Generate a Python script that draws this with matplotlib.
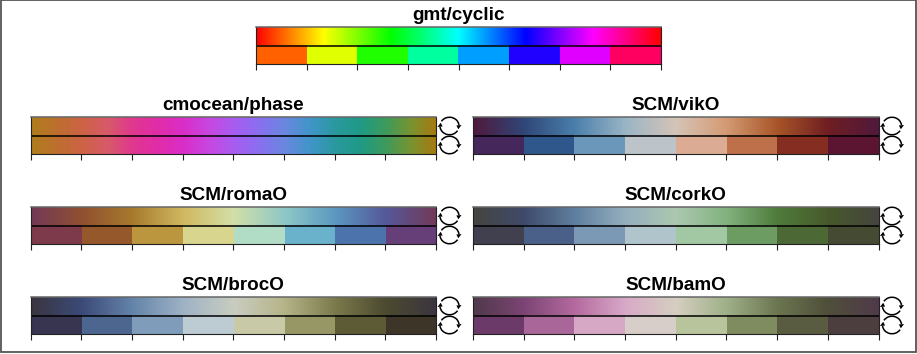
import numpy as np
import matplotlib
matplotlib.use("Agg")
import matplotlib.pyplot as plt
from matplotlib.colors import LinearSegmentedColormap, ListedColormap
from matplotlib.patches import Arc, Polygon, Rectangle

plt.rcParams["font.family"] = ["Liberation Sans", "DejaVu Sans"]

W, H = 917, 354

titles = ["gmt/cyclic", "cmocean/phase", "SCM/vikO", "SCM/romaO", "SCM/corkO", "SCM/brocO", "SCM/bamO"]

# colours along the smooth bar, evenly spaced from left to right
gmt_nodes = ["#ff0000", "#ffff00", "#00ff00", "#00ffff", "#0000ff", "#ff00ff", "#ff0000"]
phase_nodes = ["#b07d1c", "#bd6f2e", "#cc6345", "#d85a68", "#e0388f", "#e22ca8", "#d92ec8", "#c847e0", "#a85cf0",
               "#8a6ff0", "#6a87e0", "#4095c8", "#2a999f", "#1f9a85", "#3d9a5c", "#7a9330", "#a8780f"]
vik_nodes = ["#50193c", "#2f4678", "#4a7fab", "#9ab5c5", "#d5c4b8", "#d49a73", "#a85528", "#6f1e22", "#50193c"]
roma_nodes = ["#733957", "#8f5030", "#a87a2e", "#d0b860", "#d2dfa7", "#8ec8c6", "#5b98c0", "#56589a", "#733957"]
cork_nodes = ["#45443f", "#3f4a6a", "#5f7fa0", "#95aebf", "#acc8b0", "#82b27f", "#4f7c3c", "#47592b", "#45443f"]
broc_nodes = ["#3a353f", "#3c4a78", "#6484aa", "#9fb2c5", "#c9cdc0", "#b5b488", "#7a7a4c", "#4c4a30", "#3a353f"]
bam_nodes = ["#4f3a4a", "#7c4474", "#b46a9f", "#d8a9c8", "#d5cfc0", "#9fb088", "#6c7650", "#4f4f3a", "#4f3a4a"]

# the eight classes of the lower bar
gmt_steps = ["#ff6000", "#e0ff00", "#20ff00", "#00ff9f", "#009fff", "#2000ff", "#df00ff", "#ff0060"]
vik_steps = ["#46275c", "#30578c", "#6a97ba", "#bdc4c9", "#dcab93", "#bd7049", "#842d20", "#5c1530"]
roma_steps = ["#7d3a4a", "#95582b", "#bc963f", "#d8d58e", "#b1dcc6", "#6ab1cc", "#4d73ad", "#673f78"]
cork_steps = ["#40404f", "#4a6088", "#7b98b5", "#b0c4cc", "#a1c8a3", "#6c9c62", "#4b6835", "#454a33"]
broc_steps = ["#373550", "#4c668f", "#809cbb", "#bdcbd3", "#c8c9a6", "#979765", "#5d5b35", "#3e3529"]
bam_steps = ["#6b3a68", "#a96699", "#d7a7c6", "#d7cec9", "#b8c59c", "#7f8c5f", "#5a5c42", "#4c3d3f"]

tick_pos = [0, 0.125, 0.25, 0.375, 0.5, 0.625, 0.75, 0.875, 1]

def panel(x0, x1, y0, y1, title, nodes, steps):
    ax = fig.add_axes([x0 / W, 1 - y1 / H, (x1 - x0) / W, (y1 - y0) / H])
    cm = LinearSegmentedColormap.from_list("c", nodes, N=512)
    grad = np.linspace(0, 1, 512).reshape(1, -1)
    ax.imshow(grad, cmap=cm, aspect="auto", extent=[0, 1, 1, 2], interpolation="bilinear")
    if steps is None:
        # phase has no classes, it runs smooth in both bars
        ax.imshow(grad, cmap=cm, aspect="auto", extent=[0, 1, 0, 1], interpolation="bilinear")
    else:
        ax.imshow(np.arange(8).reshape(1, -1), cmap=ListedColormap(steps), aspect="auto",
                  extent=[0, 1, 0, 1], interpolation="nearest")
    ax.set_xlim(0, 1)
    ax.set_ylim(0, 2)
    ax.axhline(1, color="black", lw=1.1)
    ax.set_yticks([])
    ax.set_xticks(tick_pos)
    ax.set_xticklabels([])
    ax.tick_params(axis="x", length=4.3, width=0.8, color="#222222")
    for s in ax.spines.values():
        s.set_linewidth(0.8)
        s.set_color("#222222")
    ax.spines["top"].set_color("#666666")
    ax.spines["top"].set_linewidth(1.1)
    ax.set_title(title, fontsize=13.6, fontweight="bold", pad=5)
    return ax

def cycle_glyph(cx, cy):
    cy = H - cy
    for t0, t1, tip in [(5, 150, -22), (185, 330, 158)]:
        over.add_patch(Arc((cx, cy), 19, 17.5, theta1=t0, theta2=t1, lw=1.1, color="black"))
        a = np.deg2rad(t0)
        b = np.deg2rad(tip)
        px, py = cx + 9.5 * np.cos(a), cy + 8.75 * np.sin(a)
        qx, qy = cx + 9.5 * np.cos(b), cy + 8.75 * np.sin(b)
        nx, ny = np.cos(a), np.sin(a)
        over.add_patch(Polygon([[px + 2.6 * nx, py + 2.6 * ny], [px - 2.6 * nx, py - 2.6 * ny], [qx, qy]],
                               closed=True, color="black", lw=0))

fig = plt.figure(figsize=(W / 100, H / 100), dpi=100)

over = fig.add_axes([0, 0, 1, 1], zorder=5)
over.set_xlim(0, W)
over.set_ylim(0, H)
over.axis("off")
over.patch.set_alpha(0)
over.add_patch(Rectangle((0.7, 1.8), W - 1.4, H - 2.2, fill=False, ec="#555555", lw=1.3))

panel(256, 661, 27, 64, titles[0], gmt_nodes, gmt_steps)

lefts = [30.5, 473]
tops = [117, 207, 297]
rows = [
    (titles[1], phase_nodes, None),
    (titles[2], vik_nodes, vik_steps),
    (titles[3], roma_nodes, roma_steps),
    (titles[4], cork_nodes, cork_steps),
    (titles[5], broc_nodes, broc_steps),
    (titles[6], bam_nodes, bam_steps),
]
for i, (title, nodes, steps) in enumerate(rows):
    x0 = lefts[i % 2]
    y0 = tops[i // 2]
    panel(x0, x0 + 405.5, y0, y0 + 37, title, nodes, steps)
    cycle_glyph(x0 + 419, y0 + 9)
    cycle_glyph(x0 + 419, y0 + 28)

fig.savefig("out.png", dpi=100)
